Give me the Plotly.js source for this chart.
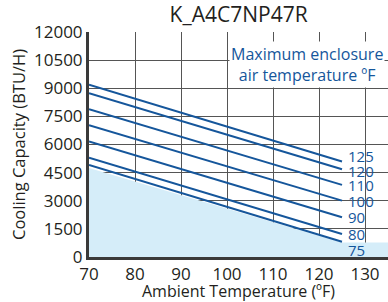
<!DOCTYPE html>
<html>
<head>
<meta charset="utf-8">
<script src="https://cdn.plot.ly/plotly-3.0.1.min.js"></script>
<style>html,body{margin:0;padding:0;background:#fff;}#chart{width:388px;height:302px;}</style>
</head>
<body>
<div id="chart"></div>
<script>
// ---- data ----
const chartTitle = "K_A4C7NP47R";
const xTitle = "Ambient Temperature (ºF)";
const yTitle = "Cooling Capacity (BTU/H)";
const noteText = "Maximum enclosure<br>air temperature ºF";
const xTicks = [70, 80, 90, 100, 110, 120, 130];
const yTicks = [0, 1500, 3000, 4500, 6000, 7500, 9000, 10500, 12000];
const ambient = [70, 125];
const seriesNames = ["125", "120", "110", "100", "90", "80", "75"];
const cap125 = [9185, 5090];
const cap120 = [8740, 4683];
const cap110 = [7886, 3845];
const cap100 = [7030, 3007];
const cap90 = [6160, 2118];
const cap80 = [5290, 1228];
const cap75 = [4913, 817];
const shadeX = [70, 125, 135];
const shadeY = [4750, 780, 780];

// ---- drawing ----
const blue = "#15569b";
const ink = "#231f20";
const font = "Open Sans, Liberation Sans, sans-serif";
const allSeries = [cap125, cap120, cap110, cap100, cap90, cap80, cap75];

const traces = [{
  x: shadeX, y: shadeY, type: "scatter", mode: "lines",
  fill: "tozeroy", fillcolor: "#d5edf9", line: {width: 0}, hoverinfo: "skip"
}];
allSeries.forEach((s, i) => {
  traces.push({x: ambient, y: s, type: "scatter", mode: "lines",
    name: seriesNames[i], line: {color: blue, width: 2}});
});

const labelShift = {"125": 6, "120": -2, "75": -8};
const annotations = allSeries.map((s, i) => ({
  x: ambient[ambient.length - 1], y: s[s.length - 1], xref: "x", yref: "y",
  text: seriesNames[i], showarrow: false, xanchor: "left", yanchor: "middle",
  xshift: 4, yshift: labelShift[seriesNames[i]] || 0,
  font: {family: font, size: 15, color: blue}
}));
annotations.push({
  x: 0.73, y: 0.855, xref: "paper", yref: "paper", text: noteText,
  showarrow: false, xanchor: "center", yanchor: "middle",
  bgcolor: "#ffffff", borderpad: 1,
  font: {family: font, size: 16, color: blue}
});

const layout = {
  width: 388, height: 302,
  margin: {l: 89, r: 0, t: 32, b: 45},
  paper_bgcolor: "#ffffff", plot_bgcolor: "#ffffff",
  showlegend: false,
  title: {text: chartTitle, x: 0.615, xanchor: "center", y: 0.95, yanchor: "middle",
    font: {family: font, size: 21, color: ink}},
  xaxis: {
    range: [70, 135], tickvals: xTicks, ticktext: xTicks.map(String),
    showgrid: true, gridcolor: "#555", gridwidth: 1,
    showline: true, linecolor: "#3a3a3a", linewidth: 3, zeroline: false,
    ticks: "", tickfont: {family: font, size: 17, color: ink},
    title: {text: xTitle, standoff: 5, font: {family: font, size: 16, color: ink}}
  },
  yaxis: {
    range: [0, 12000], tickvals: yTicks, ticktext: yTicks.map(String),
    showgrid: true, gridcolor: "#555", gridwidth: 1,
    showline: true, linecolor: "#3a3a3a", linewidth: 3, zeroline: false,
    ticks: "", tickfont: {family: font, size: 17, color: ink},
    title: {text: yTitle, standoff: 5, font: {family: font, size: 16.5, color: ink}}
  },
  annotations: annotations
};

Plotly.newPlot("chart", traces, layout, {staticPlot: true, displayModeBar: false});
</script>
</body>
</html>
